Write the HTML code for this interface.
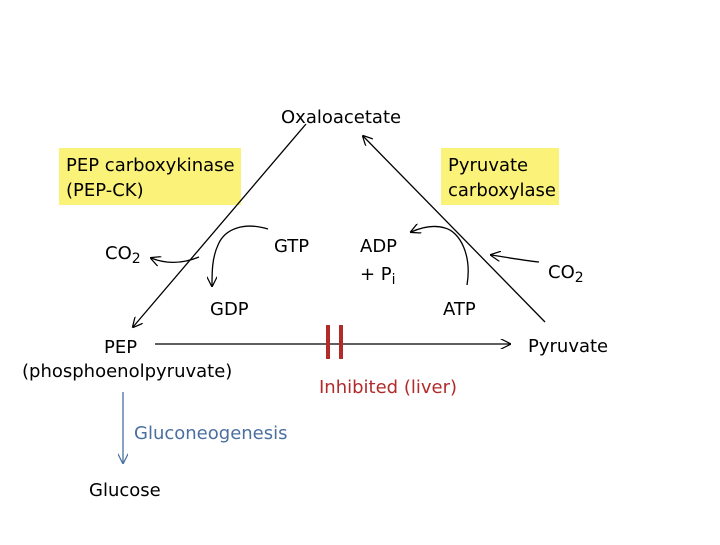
<!DOCTYPE html><html><head><style>body{margin:0;background:#fff}svg text{font-family:"DejaVu Sans","Liberation Sans",sans-serif}</style></head><body>
<svg width="720" height="540" viewBox="0 0 720 540" xmlns="http://www.w3.org/2000/svg">
<defs><marker id="a" viewBox="0 0 10 10" refX="9" refY="5" markerWidth="8" markerHeight="8" orient="auto"><path d="M0,0L10,5L0,10" fill="none" stroke="#000" stroke-width="1.2"/></marker>
<marker id="b" viewBox="0 0 10 10" refX="9" refY="5" markerWidth="8" markerHeight="8" orient="auto"><path d="M0,0L10,5L0,10" fill="none" stroke="#4a6fa0" stroke-width="1.2"/></marker></defs>
<rect x="59" y="148" width="182" height="57" fill="#fbf27a"/>
<rect x="441" y="148" width="118" height="57" fill="#fbf27a"/>
<g font-size="18" fill="#000">
<text x="66" y="171">PEP carboxykinase</text><text x="66" y="196">(PEP-CK)</text>
<text x="448" y="171">Pyruvate</text><text x="448" y="196">carboxylase</text>
<text x="281" y="123">Oxaloacetate</text>
<text x="105" y="259">CO<tspan font-size="14" dy="4">2</tspan></text>
<text x="274" y="252">GTP</text>
<text x="210" y="315">GDP</text>
<text x="360" y="252">ADP</text><text x="360" y="280">+ P<tspan font-size="14" dy="4">i</tspan></text>
<text x="443" y="315">ATP</text>
<text x="548" y="278">CO<tspan font-size="14" dy="4">2</tspan></text>
<text x="104" y="353">PEP</text>
<text x="22" y="377">(phosphoenolpyruvate)</text>
<text x="528" y="352">Pyruvate</text>
<text x="89" y="496">Glucose</text>
</g>
<text x="319" y="393" font-size="18" fill="#b22a2a">Inhibited (liver)</text>
<text x="134" y="439" font-size="18" fill="#4a6fa0">Gluconeogenesis</text>
<g fill="none" stroke="#000" stroke-width="1.3">
<line x1="306" y1="124" x2="133" y2="327" marker-end="url(#a)"/>
<line x1="545" y1="322" x2="363" y2="136" marker-end="url(#a)"/>
<line x1="155" y1="344" x2="510" y2="344" marker-end="url(#a)"/>
<path d="M268,229 C245,222 225,228 218,245 C212,258 212,272 212,286" marker-end="url(#a)"/>
<path d="M199,257 C182,264 166,264 151,258" marker-end="url(#a)"/>
<path d="M467,285 C472,255 460,232 445,228 C432,224 420,228 411,232" marker-end="url(#a)"/>
<path d="M539,262 C520,260 505,257 491,255" marker-end="url(#a)"/>
</g>
<line x1="123" y1="392" x2="123" y2="463" stroke="#4a6fa0" stroke-width="1.3" marker-end="url(#b)"/>
<rect x="326" y="325" width="4" height="34" fill="#b22a2a"/><rect x="339" y="325" width="4" height="34" fill="#b22a2a"/>
</svg></body></html>
